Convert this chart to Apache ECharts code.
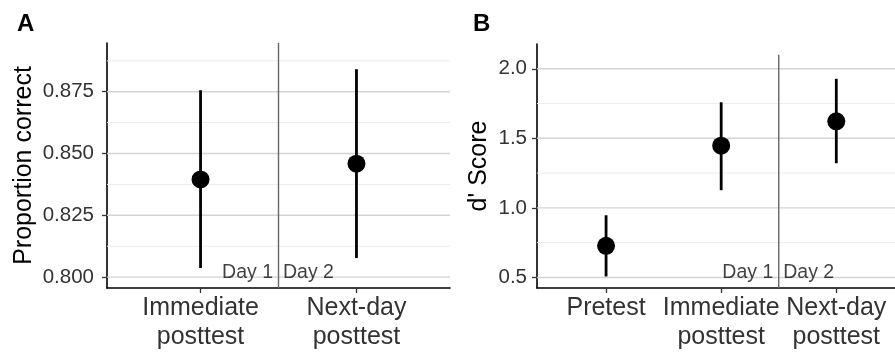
<!DOCTYPE html>
<html>
<head>
<meta charset="utf-8">
<script src="https://cdn.jsdelivr.net/npm/echarts@6/dist/echarts.min.js"></script>
<style>
html,body{margin:0;padding:0;background:#fff;}
#chart{width:895px;height:352px;}
</style>
</head>
<body>
<div id="chart"></div>
<script>
// ---- data ----
const panelACategories = ['Immediate\nposttest', 'Next-day\nposttest'];
const panelAMean  = [0.8395, 0.8459];
const panelALower = [0.8037, 0.8077];
const panelAUpper = [0.8756, 0.8841];
const panelATicks = [0.800, 0.825, 0.850, 0.875];
const panelAMinor = [0.8125, 0.8375, 0.8625, 0.8875];

const panelBCategories = ['Pretest', 'Immediate\nposttest', 'Next-day\nposttest'];
const panelBMean  = [0.727, 1.447, 1.622];
const panelBLower = [0.507, 1.127, 1.321];
const panelBUpper = [0.947, 1.759, 1.928];
const panelBTicks = [0.5, 1.0, 1.5, 2.0];
const panelBMinor = [0.75, 1.25, 1.75];

const dayLabels = ['Day 1', 'Day 2'];

// ---- helpers ----
const FONT = 'Liberation Sans, Arial, sans-serif';
const A = {xmin: 0.4, xmax: 2.6, ymin: 0.7956, ymax: 0.8947};
const B = {xmin: 0.4, xmax: 3.51, ymin: 0.424, ymax: 2.178};

function gridSeries(idx, values, bounds, color, width) {
  return {
    type: 'custom', xAxisIndex: idx, yAxisIndex: idx, z: 1, silent: true,
    data: values.map(v => [v]),
    renderItem: function (params, api) {
      const v = api.value(0);
      const p1 = api.coord([bounds.xmin, v]);
      const p2 = api.coord([bounds.xmax, v]);
      return {type: 'line', shape: {x1: p1[0], y1: p1[1], x2: p2[0], y2: p2[1]},
              style: {stroke: color, lineWidth: width}};
    }
  };
}
function errorSeries(idx, lower, upper) {
  return {
    type: 'custom', xAxisIndex: idx, yAxisIndex: idx, z: 5, silent: true,
    data: lower.map((lo, i) => [i + 1, lo, upper[i]]),
    renderItem: function (params, api) {
      const p1 = api.coord([api.value(0), api.value(1)]);
      const p2 = api.coord([api.value(0), api.value(2)]);
      return {type: 'line', shape: {x1: p1[0], y1: p1[1], x2: p2[0], y2: p2[1]},
              style: {stroke: '#000', lineWidth: 2.8}};
    }
  };
}
function pointSeries(idx, means) {
  return {
    type: 'scatter', xAxisIndex: idx, yAxisIndex: idx, z: 6, silent: true,
    symbol: 'circle', symbolSize: 18, itemStyle: {color: '#000', opacity: 1},
    data: means.map((m, i) => [i + 1, m])
  };
}
function dividerSeries(idx, x, yTop, yBottom) {
  return {
    type: 'custom', xAxisIndex: idx, yAxisIndex: idx, z: 3, silent: true,
    data: [[x, yTop, yBottom]],
    renderItem: function (params, api) {
      const p1 = api.coord([api.value(0), api.value(1)]);
      const p2 = api.coord([api.value(0), api.value(2)]);
      return {type: 'line', shape: {x1: p1[0], y1: p1[1], x2: p2[0], y2: p2[1]},
              style: {stroke: '#666', lineWidth: 1.4}};
    }
  };
}
function dayLabelSeries(idx, x, y) {
  return {
    type: 'scatter', xAxisIndex: idx, yAxisIndex: idx, z: 7, silent: true,
    symbolSize: 1, itemStyle: {color: 'rgba(0,0,0,0)'},
    data: [
      {value: [x, y], label: {show: true, position: 'left', distance: 5, formatter: dayLabels[0]}},
      {value: [x, y], label: {show: true, position: 'right', distance: 4, formatter: dayLabels[1]}}
    ],
    label: {color: '#111', fontSize: 19.5, fontFamily: FONT}
  };
}
function xAxisDef(idx, bounds, cats) {
  const vals = cats.map((c, i) => i + 1);
  return {
    type: 'value', gridIndex: idx, min: bounds.xmin, max: bounds.xmax,
    axisLine: {show: true, onZero: false, lineStyle: {color: '#000', width: 1.6}},
    axisTick: {show: true, customValues: vals, length: 5, lineStyle: {color: '#333', width: 1.3}},
    axisLabel: {show: true, customValues: vals, margin: 6, color: '#333', fontSize: 25,
      fontFamily: FONT, lineHeight: 29,
      formatter: v => cats[Math.round(v) - 1] || ''},
    splitLine: {show: false}
  };
}
function yAxisDef(idx, bounds, ticks, digits, name, nameGap, margin) {
  return {
    type: 'value', gridIndex: idx, min: bounds.ymin, max: bounds.ymax,
    name: name, nameLocation: 'middle', nameGap: nameGap, nameRotate: 90,
    nameTextStyle: {color: '#000', fontSize: 25, fontFamily: FONT},
    axisLine: {show: true, onZero: false, lineStyle: {color: '#000', width: 1.6}},
    axisTick: {show: true, customValues: ticks, length: 5, lineStyle: {color: '#333', width: 1.3}},
    axisLabel: {show: true, customValues: ticks, margin: margin, color: '#333', fontSize: 20.5,
      fontFamily: FONT, formatter: v => Number(v).toFixed(digits)},
    splitLine: {show: false}
  };
}

const option = {
  backgroundColor: '#fff',
  animation: false,
  title: [
    {text: 'A', left: 12, top: 7, textStyle: {fontSize: 24, fontWeight: 'bold', color: '#000', fontFamily: FONT}},
    {text: 'B', left: 468, top: 7, textStyle: {fontSize: 24, fontWeight: 'bold', color: '#000', fontFamily: FONT}}
  ],
  grid: [
    {left: 107, top: 43, width: 343, height: 248},
    {left: 537, top: 44, width: 358, height: 247}
  ],
  xAxis: [xAxisDef(0, A, panelACategories), xAxisDef(1, B, panelBCategories)],
  yAxis: [
    yAxisDef(0, A, panelATicks, 3, 'Proportion correct', 70, 13),
    yAxisDef(1, B, panelBTicks, 1, "d' Score", 45, 10)
  ],
  series: [
    gridSeries(0, panelAMinor, A, '#ececec', 1),
    gridSeries(0, panelATicks, A, '#d3d3d3', 1.4),
    gridSeries(1, panelBMinor, B, '#ececec', 1),
    gridSeries(1, panelBTicks, B, '#d3d3d3', 1.4),
    dividerSeries(0, 1.5, A.ymax, A.ymin),
    dividerSeries(1, 2.5, 2.1, B.ymin),
    errorSeries(0, panelALower, panelAUpper),
    errorSeries(1, panelBLower, panelBUpper),
    pointSeries(0, panelAMean),
    pointSeries(1, panelBMean),
    dayLabelSeries(0, 1.5, 0.802),
    dayLabelSeries(1, 2.5, 0.538)
  ]
};
const chart = echarts.init(document.getElementById('chart'), null, {renderer: 'canvas'});
chart.setOption(option);
</script>
</body>
</html>
